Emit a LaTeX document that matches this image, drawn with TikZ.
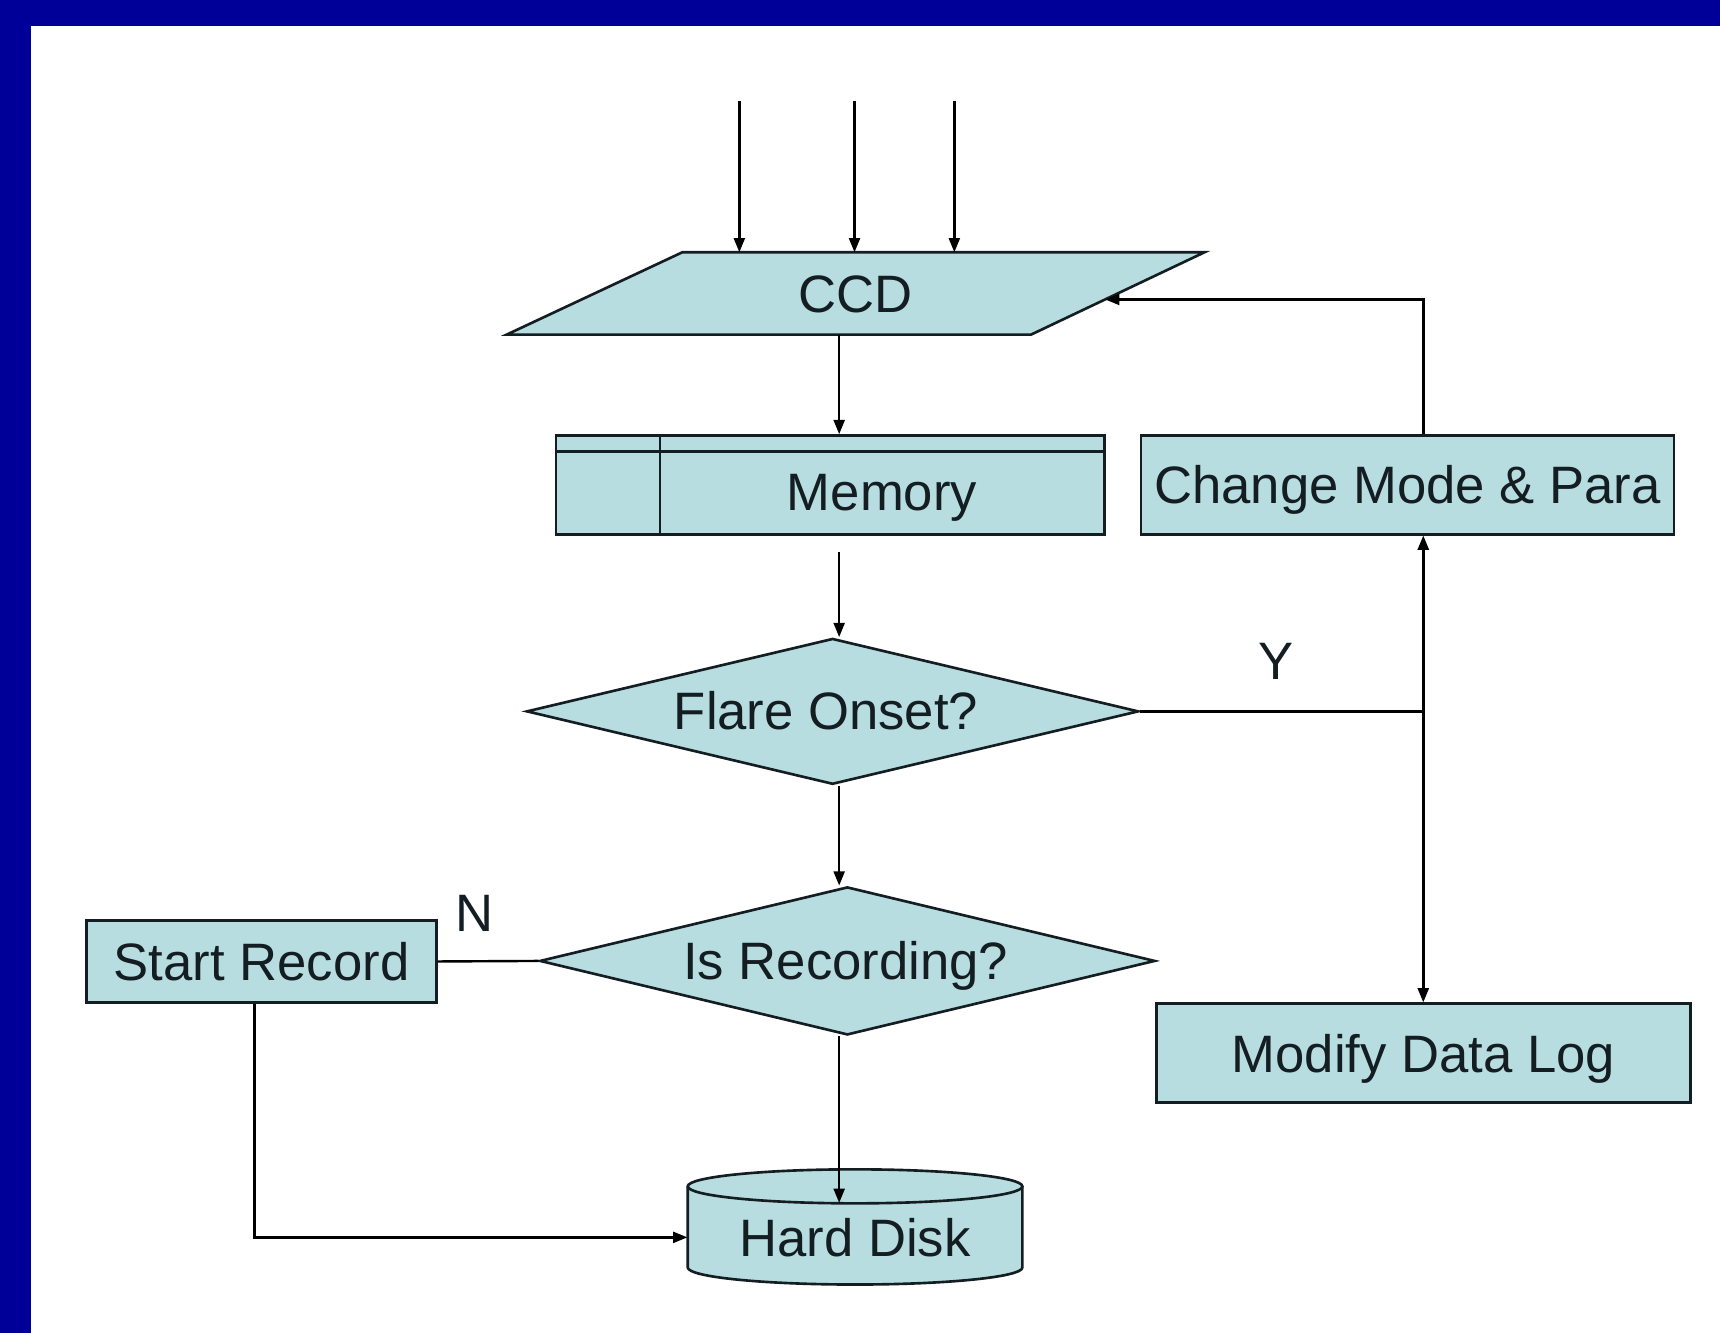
\documentclass[tikz,border=0pt]{standalone}
\usepackage{fontspec}
\setmainfont{Liberation Sans}
\usetikzlibrary{shapes.geometric,arrows.meta,calc}
\definecolor{frameblue}{RGB}{0,0,153}
\definecolor{boxfill}{RGB}{183,221,225}
\definecolor{inkc}{RGB}{20,30,34}
\begin{document}
\begin{tikzpicture}[x=0.5pt,y=-0.5pt,
  every node/.style={font=\fontsize{24}{28}\selectfont, text=inkc, text height=17.3pt, text depth=0pt},
  shapebox/.style={draw=inkc, fill=boxfill, line width=1.2pt, inner sep=0pt},
  outl/.style={draw=inkc, line width=1.2pt},
  arr/.style={-{Triangle[length=6.5pt,width=5pt]}, line width=1.1pt, draw=black},
  conn/.style={line width=1.1pt, draw=black}]
\useasboundingbox (0,0) rectangle (1568,1215);
\fill[white] (0,0) rectangle (1568,1215);
\fill[frameblue] (0,0) rectangle (1568,24);
\fill[frameblue] (0,0) rectangle (28,1215);

% CCD parallelogram
\coordinate (ccdTL) at (622,230);
\coordinate (ccdTR) at (1098,230);
\coordinate (ccdBR) at (940,305);
\coordinate (ccdBL) at (462,305);
\filldraw[fill=boxfill, outl, line join=miter] (ccdTL) -- (ccdTR) -- (ccdBR) -- (ccdBL) -- cycle;
\node (ccd) at (780,268) {CCD};

% nodes
\node[shapebox, rectangle, minimum width=250pt, minimum height=45pt] (mem) at (757,442) {};
\draw[outl] ([yshift=-8pt]mem.north west) -- ([yshift=-8pt]mem.north east);
\draw[outl] ([xshift=48pt]mem.north west) -- ([xshift=48pt]mem.south west);
\node (memtxt) at (804,448) {Memory};
\node[shapebox, rectangle, minimum width=243pt, minimum height=45pt] (chg) at (1283,442) {Change Mode \& Para};
\node[shapebox, diamond, aspect=4.2, minimum width=279pt, minimum height=66.5pt] (flare) at (759,648.5) {};
\node (flaretxt) at (753,648) {Flare Onset?};
\node[shapebox, diamond, aspect=4.15, minimum width=280.5pt, minimum height=67.5pt] (isrec) at (772.5,876) {};
\node (isrectxt) at (771,876) {Is Recording?};
\node[shapebox, rectangle, minimum width=159.5pt, minimum height=37.5pt] (start) at (238.5,876.5) {Start Record};
\node[shapebox, rectangle, minimum width=243.5pt, minimum height=45pt] (mdl) at (1297.5,960) {Modify Data Log};

% hard disk cylinder
\fill[boxfill] (627,1081.5) -- (627,1155.5) arc[start angle=180, end angle=0, x radius=152.5, y radius=15.5]
   -- (932,1081.5) arc[start angle=0, end angle=-180, x radius=152.5, y radius=15.5] -- cycle;
\draw[outl] (627,1081.5) -- (627,1155.5) arc[start angle=180, end angle=0, x radius=152.5, y radius=15.5]
   -- (932,1081.5);
\draw[outl] (779.5,1081.5) ellipse[x radius=152.5, y radius=15.5];
\node[minimum width=152.5pt, minimum height=31pt, inner sep=0pt] (hd) at (779.5,1128) {Hard Disk};

% input arrows
\coordinate (in1) at (674,92);
\coordinate (in2) at (779,92);
\coordinate (in3) at (870,92);
\draw[arr] (in1) -- (in1 |- ccdTL);
\draw[arr] (in2) -- (in2 |- ccdTL);
\draw[arr] (in3) -- (in3 |- ccdTL);

% main flow
\draw[arr] (ccdBL -| 765,0) -- (mem.north -| 765,0);
\draw[arr, shorten <=7.5pt] (mem.south -| 765,0) -- (flare.north -| 765,0);
\draw[arr] (flare.south -| 765,0) -- (isrec.north -| 765,0);
\draw[arr] (isrec.south -| 765,0) -- (hd.north -| 765,0);
\draw[conn] (isrec.west) -- (start.east);
\draw[arr] ([xshift=-3.25pt]start.south) |- (hd.west);

% Y branch
\coordinate (yj) at (mdl.north |- flare.east);
\draw[conn] (flare.east) -- (yj);
\draw[arr] (yj) -- (yj |- chg.south);
\draw[arr] (yj) -- (mdl.north);
\draw[arr] (chg.north -| yj) |- ($(ccdTR)!0.573!(ccdBR)$);

% labels
\node (ylab) at (1163,602) {Y};
\node (nlab) at (433,832) {N};
\end{tikzpicture}
\end{document}
